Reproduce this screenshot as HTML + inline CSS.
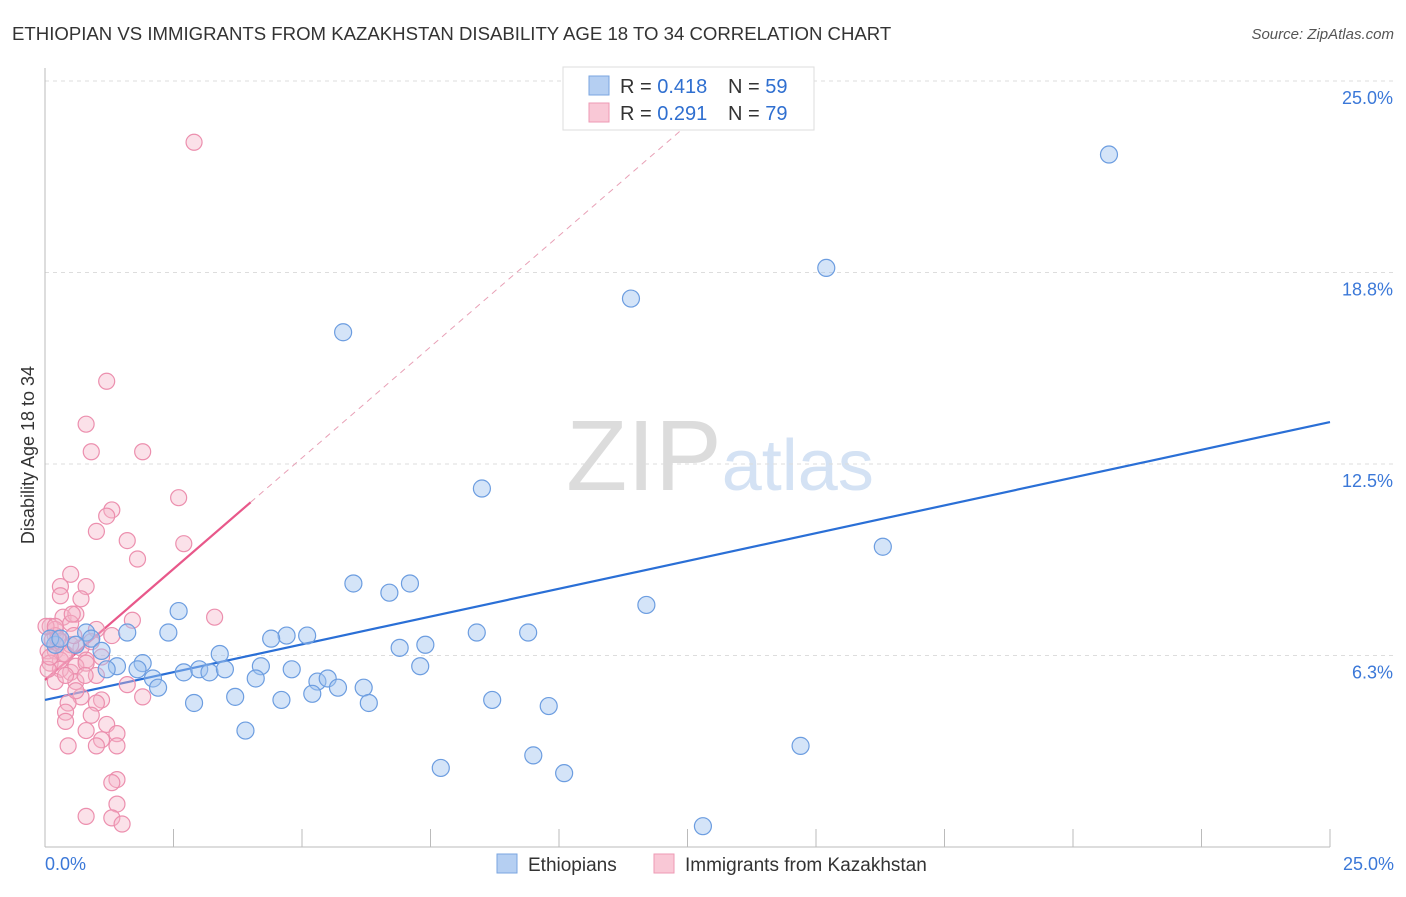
<!DOCTYPE html>
<html><head><meta charset="utf-8"><style>
body{margin:0;background:#fff;font-family:"Liberation Sans",sans-serif}
svg text{font-family:"Liberation Sans",sans-serif}
</style></head><body>
<svg width="1406" height="892" viewBox="0 0 1406 892">
<text x="12" y="40" font-size="18.6" fill="#333">ETHIOPIAN VS IMMIGRANTS FROM KAZAKHSTAN DISABILITY AGE 18 TO 34 CORRELATION CHART</text>
<text x="1394" y="39" font-size="15" fill="#555" text-anchor="end" font-style="italic">Source: ZipAtlas.com</text>
<text x="720" y="490" font-size="100" fill="#e4e4e4" text-anchor="middle" font-family="Liberation Serif"><tspan fill="#dcdcdc">ZIP</tspan><tspan fill="#d4e2f4" font-family="Liberation Sans" font-size="72">atlas</tspan></text>
<g id="grid"></g><g id="axes"></g><g id="lines"></g><g id="pts"></g>
<text x="34" y="455" font-size="18" fill="#333" text-anchor="middle" transform="rotate(-90 34 455)">Disability Age 18 to 34</text>
<text x="45" y="870" font-size="18" fill="#3b78d8">0.0%</text>
<text x="1394" y="870" font-size="18" fill="#3b78d8" text-anchor="end">25.0%</text>
<g>
<rect x="563" y="67" width="251" height="63" fill="#fff" stroke="#ddd"/>
<rect x="589" y="76" width="20" height="19" fill="#b5cff2" stroke="#7aa6e0"/>
<rect x="589" y="103" width="20" height="19" fill="#f9c8d6" stroke="#ee9ab4"/>
<text x="620" y="93" font-size="20" fill="#333">R = <tspan fill="#2f6fd0">0.418</tspan></text>
<text x="728" y="93" font-size="20" fill="#333">N = <tspan fill="#2f6fd0">59</tspan></text>
<text x="620" y="120" font-size="20" fill="#333">R = <tspan fill="#2f6fd0">0.291</tspan></text>
<text x="728" y="120" font-size="20" fill="#333">N = <tspan fill="#2f6fd0">79</tspan></text>
</g>
<g>
<rect x="497" y="854" width="20" height="19" fill="#b5cff2" stroke="#7aa6e0"/>
<text x="528" y="871" font-size="19" fill="#333">Ethiopians</text>
<rect x="654" y="854" width="20" height="19" fill="#f9c8d6" stroke="#ee9ab4"/>
<text x="685" y="871" font-size="19" fill="#333">Immigrants from Kazakhstan</text>
</g>
</svg>
<script>
const yTicks=[25,18.75,12.5,6.25];
const yTickLabels=["25.0%","18.8%","12.5%","6.3%"];
const blueX=[20.7,15.2,11.4,5.8,8.5,16.3,11.7,6.0,7.1,6.7,2.6,1.6,2.4,0.8,0.9,1.1,0.2,0.1,0.3,0.6,4.7,5.1,4.4,3.4,8.4,9.4,7.4,6.9,4.2,4.8,7.3,1.9,1.4,1.2,1.8,2.7,3.0,3.2,3.5,2.1,2.2,4.1,5.3,5.5,5.7,5.2,6.2,3.7,2.9,4.6,6.3,8.7,9.8,3.9,9.5,7.7,10.1,14.7,12.8];
const blueY=[22.6,18.9,17.9,16.8,11.7,9.8,7.9,8.6,8.6,8.3,7.7,7.0,7.0,7.0,6.8,6.4,6.6,6.8,6.8,6.6,6.9,6.9,6.8,6.3,7.0,7.0,6.6,6.5,5.9,5.8,5.9,6.0,5.9,5.8,5.8,5.7,5.8,5.7,5.8,5.5,5.2,5.5,5.4,5.5,5.2,5.0,5.2,4.9,4.7,4.8,4.7,4.8,4.6,3.8,2.99,2.58,2.41,3.3,0.68];
const pinkX=[2.9,1.2,0.8,0.9,1.9,2.6,1.3,1.2,1.0,1.6,2.7,1.8,0.3,0.5,0.8,0.7,0.3,3.3,1.7,0.35,0.6,0.5,0.1,0.2,0.2,1.0,1.3,0.06,0.2,0.4,0.7,0.5,0.8,0.3,0.1,0.3,0.5,0.6,0.8,1.0,0.6,0.2,0.4,1.6,1.9,0.7,1.1,1.0,0.45,0.9,0.4,0.4,1.2,0.8,1.4,1.1,1.4,1.0,0.45,1.4,1.3,1.4,0.8,1.3,1.5,0.14,0.02,0.2,0.06,0.3,0.56,0.9,1.1,0.6,0.78,0.37,0.1,0.53,0.25];
const pinkY=[23.0,15.2,13.8,12.9,12.9,11.4,11.0,10.8,10.3,10.0,9.9,9.4,8.5,8.9,8.5,8.1,8.2,7.5,7.4,7.5,7.6,7.3,7.2,7.1,6.9,7.1,6.9,6.4,6.4,6.3,6.5,6.6,6.1,6.1,6.0,5.8,5.7,5.9,6.0,5.6,5.4,5.4,5.6,5.3,4.9,4.9,4.8,4.7,4.7,4.3,4.4,4.1,4.0,3.8,3.7,3.5,3.3,3.3,3.3,2.2,2.1,1.4,1.0,0.95,0.75,6.75,7.2,7.2,5.8,6.7,6.9,6.7,6.2,5.1,5.6,6.3,6.2,7.6,6.8];
const blueFit=[4.80,13.87];
const pinkFit=[5.45,1.45];
const NS="http://www.w3.org/2000/svg";
const sx=v=>45+v*51.4, sy=v=>847-v*30.64;
function mk(tag,attrs,parent){const e=document.createElementNS(NS,tag);for(const k in attrs)e.setAttribute(k,attrs[k]);document.getElementById(parent).appendChild(e);return e;}
yTicks.forEach((t,i)=>{
 let l=mk('line',{x1:45,x2:1394,y1:sy(t),y2:sy(t),stroke:'#ddd','stroke-dasharray':'4,4'},'grid');
 
 
 let tx=mk('text',{x:1393,y:sy(t)+23,'font-size':18,fill:'#3b78d8','text-anchor':'end'},'grid');tx.textContent=yTickLabels[i];
 
 
});
let ax=mk('line',{x1:45,x2:45,y1:68,y2:847,stroke:'#bbb'},'axes');


let bx=mk('line',{x1:45,x2:1330,y1:847,y2:847,stroke:'#bbb'},'axes');


for(let i=0;i<=10;i++){let t=mk('line',{x1:sx(i*2.5),x2:sx(i*2.5),y1:829,y2:847,stroke:'#bbb'},'axes');
 
 }
let bl=mk('line',{x1:sx(0),y1:sy(blueFit[0]),x2:sx(25),y2:sy(blueFit[1]),stroke:'#2a6fd6','stroke-width':2.2},'lines');


const pxEnd=(25-pinkFit[0])/pinkFit[1];
let pd=mk('line',{x1:sx(4),y1:sy(pinkFit[0]+4*pinkFit[1]),x2:sx(pxEnd),y2:sy(25),stroke:'#e8a0b6','stroke-width':1,'stroke-dasharray':'6,5'},'lines');


let pl=mk('line',{x1:sx(0),y1:sy(pinkFit[0]),x2:sx(4),y2:sy(pinkFit[0]+4*pinkFit[1]),stroke:'#e8588a','stroke-width':2.2},'lines');


pinkX.forEach((x,i)=>{let c=mk('circle',{cx:sx(x),cy:sy(pinkY[i]),r:8,fill:'rgba(246,180,200,0.4)',stroke:'#ec8fae','stroke-width':1.2},'pts');
 
 });
blueX.forEach((x,i)=>{let c=mk('circle',{cx:sx(x),cy:sy(blueY[i]),r:8.5,fill:'rgba(160,195,240,0.45)',stroke:'#6c9de0','stroke-width':1.2},'pts');
 
 });
</script>
</body></html>
